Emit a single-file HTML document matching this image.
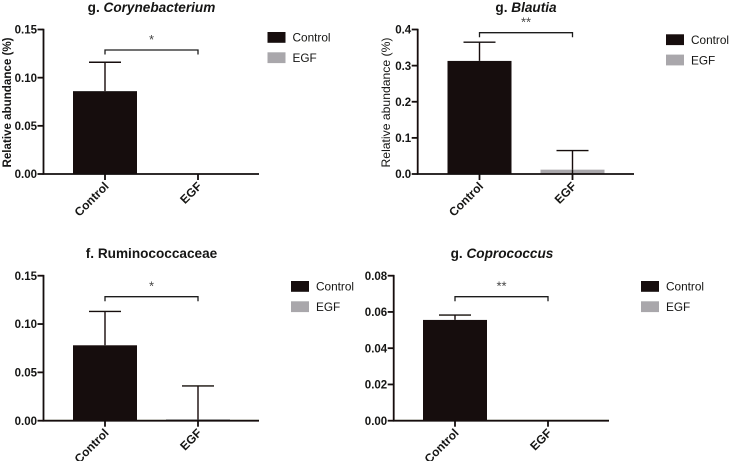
<!DOCTYPE html>
<html>
<head>
<meta charset="utf-8">
<style>
html,body{margin:0;padding:0;background:#fff;width:729px;height:461px;overflow:hidden}
svg{display:block}
text{font-family:"Liberation Sans",sans-serif;fill:#141412}
</style>
</head>
<body>
<svg id="figure" width="729" height="461" viewBox="0 0 729 461" xmlns="http://www.w3.org/2000/svg">
<g id="root" filter="url(#soft)"></g>
<defs><filter id="soft" x="0" y="0" width="100%" height="100%"><feGaussianBlur stdDeviation="0.3"/></filter></defs>
</svg>
<script>
const categories = ['Control', 'EGF'];
const corynebacteriumMeans = [0.086, 0];
const corynebacteriumErrors = [0.030, 0];
const corynebacteriumTicks = ['0.00', '0.05', '0.10', '0.15'];
const blautiaMeans = [0.313, 0.012];
const blautiaErrors = [0.052, 0.053];
const blautiaTicks = ['0.0', '0.1', '0.2', '0.3', '0.4'];
const ruminococcaceaeMeans = [0.078, 0.0015];
const ruminococcaceaeErrors = [0.035, 0.0345];
const ruminococcaceaeTicks = ['0.00', '0.05', '0.10', '0.15'];
const coprococcusMeans = [0.0556, 0];
const coprococcusErrors = [0.0027, 0];
const coprococcusTicks = ['0.00', '0.02', '0.04', '0.06', '0.08'];

const NS = 'http://www.w3.org/2000/svg';
const root = document.getElementById('root');
const DARK = '#12110c';
const GREY = '#a9a7ab';

function mk(parent, tag, attrs) {
  const el = document.createElementNS(NS, tag);
  for (const k in attrs) el.setAttribute(k, attrs[k]);
  parent.appendChild(el);
  return el;
}

function drawPanel(p) {
  const g = mk(root, 'g', {});
  
  

  const ticks = p.ticks.map(Number);
  const maxVal = ticks[ticks.length - 1];
  const yScale = v => p.y0 - (v / maxVal) * (p.y0 - p.yTop);
  const xScale = i => p.c0 + i * p.step;

  // title
  const title = mk(g, 'text', {x: p.titleX, y: p.titleY, 'text-anchor': 'middle', 'font-size': 13.6, 'font-weight': 'bold'});
  
  
  const t1 = mk(title, 'tspan', {});
  t1.textContent = p.prefix + ' ';
  const t2 = mk(title, 'tspan', {'font-style': p.italic ? 'italic' : 'normal'});
  t2.textContent = p.name;

  // bars
  p.means.forEach((m, i) => {
    const cx = xScale(i);
    if (m > 0) {
      const bar = mk(g, 'rect', {x: cx - 32, y: yScale(m), width: 64, height: p.y0 - yScale(m), fill: i === 0 ? DARK : GREY});
      
      
    }
    if (p.errors[i] > 0) {
      const top = yScale(m + p.errors[i]);
      const err = mk(g, 'path', {d: `M${cx - 16} ${top}H${cx + 16}M${cx} ${top}V${yScale(m)}`, stroke: DARK, 'stroke-width': 1.4, fill: 'none'});
      
      
      if (i === 1) {
        const drop = mk(g, 'path', {d: `M${cx} ${yScale(m)}V${p.y0}`, stroke: DARK, 'stroke-width': 1.4, fill: 'none'});
        
        
      }
    }
  });

  // axes
  const axes = mk(g, 'path', {d: `M${p.axisX} ${p.yTop - 0.8}V${p.y0}H${p.axisEnd}`, stroke: DARK, 'stroke-width': 1.8, fill: 'none'});
  
  

  // y ticks
  p.ticks.forEach(label => {
    const y = yScale(Number(label));
    const tick = mk(g, 'line', {x1: p.axisX - 6, x2: p.axisX, y1: y, y2: y, stroke: DARK, 'stroke-width': 1.8});
    
    
    const txt = mk(g, 'text', {x: p.axisX - 6.5, y: y + 4.2, 'text-anchor': 'end', 'font-size': 11.5, 'font-weight': 'bold'});
    
    
    txt.textContent = label;
  });

  // y axis title
  if (p.yTitleX) {
    const cy = 102.5;
    const yt = mk(g, 'text', {x: p.yTitleX, y: cy, transform: `rotate(-90 ${p.yTitleX} ${cy})`, 'text-anchor': 'middle', 'font-size': 11.8, 'font-weight': p.yTitleBold ? 'bold' : 'normal', textLength: 130, lengthAdjust: 'spacingAndGlyphs'});
    
    
    yt.textContent = 'Relative abundance (%)';
  }

  // x ticks and labels
  categories.forEach((c, i) => {
    const cx = xScale(i);
    const tick = mk(g, 'line', {x1: cx, x2: cx, y1: p.y0, y2: p.y0 + 6, stroke: DARK, 'stroke-width': 1.8});
    
    
    const lx = cx + 4.5, ly = p.y0 + 13;
    const txt = mk(g, 'text', {x: lx, y: ly, transform: `rotate(-45 ${lx} ${ly})`, 'text-anchor': 'end', 'font-size': 12, 'font-weight': 'bold'});
    
    
    txt.textContent = c;
  });

  // significance bracket
  const a = xScale(0), b = xScale(1);
  const br = mk(g, 'path', {d: `M${a} ${p.brY + 4.5}V${p.brY}H${b}V${p.brY + 4.5}`, stroke: '#1c1c1a', 'stroke-width': 1.3, fill: 'none'});
  
  
  const st = mk(g, 'text', {x: (a + b) / 2, y: p.brY - 6, 'text-anchor': 'middle', 'font-size': 13, style: 'fill:#444'});
  
  
  st.textContent = p.stars;

  // legend
  categories.forEach((c, i) => {
    const ly = p.legY + i * 20.3;
    const sw = mk(g, 'rect', {x: p.legX, y: ly, width: 18, height: 10.8, fill: i === 0 ? DARK : GREY});
    
    
    const lt = mk(g, 'text', {x: p.legX + 25, y: ly + 9.7, 'font-size': 11.8});
    
    
    lt.textContent = c;
  });
}

drawPanel({id:'corynebacterium', prefix:'g.', name:'Corynebacterium', italic:true, titleX:151.5, titleY:12,
  means:corynebacteriumMeans, errors:corynebacteriumErrors, ticks:corynebacteriumTicks, stars:'*',
  axisX:43.5, axisEnd:259, y0:174, yTop:29.5, c0:105, step:93, brY:50, legX:267.5, legY:32,
  yTitleX:11, yTitleBold:true});
drawPanel({id:'blautia', prefix:'g.', name:'Blautia', italic:true, titleX:526, titleY:12,
  means:blautiaMeans, errors:blautiaErrors, ticks:blautiaTicks, stars:'**',
  axisX:417.7, axisEnd:634, y0:174, yTop:29.5, c0:479.5, step:93, brY:32.7, legX:666, legY:34.3,
  yTitleX:390, yTitleBold:false});
drawPanel({id:'ruminococcaceae', prefix:'f.', name:'Ruminococcaceae', italic:false, titleX:151.5, titleY:258,
  means:ruminococcaceaeMeans, errors:ruminococcaceaeErrors, ticks:ruminococcaceaeTicks, stars:'*',
  axisX:43.5, axisEnd:259, y0:420.7, yTop:275.7, c0:105, step:93, brY:296.7, legX:291, legY:281});
drawPanel({id:'coprococcus', prefix:'g.', name:'Coprococcus', italic:true, titleX:502, titleY:258,
  means:coprococcusMeans, errors:coprococcusErrors, ticks:coprococcusTicks, stars:'**',
  axisX:393.7, axisEnd:609, y0:420.7, yTop:275.7, c0:455, step:93, brY:296.7, legX:641, legY:281});
</script>
</body>
</html>
